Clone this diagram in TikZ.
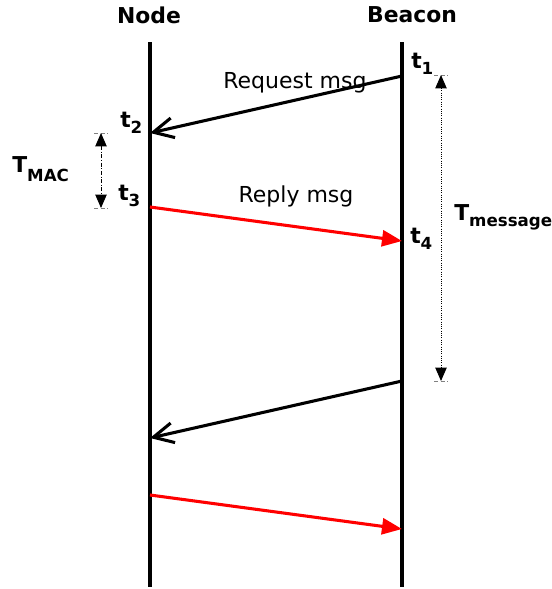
\documentclass[tikz,border=0pt]{standalone}
\usepackage{fontspec}
\setmainfont{DejaVu Sans}
\usetikzlibrary{arrows.meta}
\newcommand{\lowsub}[2][5pt]{\raisebox{-#1}{\fontsize{12.5}{14}\selectfont #2}}
\begin{document}
\begin{tikzpicture}[x=0.75pt,y=-0.75pt,
  lifeline/.style={line width=2.3pt},
  reqarrow/.style={line width=2.3pt, -{Straight Barb[length=15pt,width=15pt]}},
  reparrow/.style={line width=2.3pt, red, -{Triangle[length=15pt,width=12pt]}},
  dimmac/.style={line width=0.7pt, dash pattern=on 3pt off 1.2pt on 0.8pt off 1.2pt, {Triangle[length=10pt,width=8.5pt]}-{Triangle[length=10pt,width=8.5pt]}},
  dimmsg/.style={line width=0.7pt, densely dotted, {Triangle[length=10pt,width=8.5pt]}-{Triangle[length=10pt,width=8.5pt]}},
  tickmark/.style={line width=0.6pt, densely dashed, gray},
  title/.style={font=\fontsize{16.4}{19}\selectfont\bfseries, inner sep=0pt},
  msg/.style={font=\fontsize{16.5}{19}\selectfont, inner sep=0pt, anchor=base},
  tlabel/.style={font=\fontsize{16.4}{19}\selectfont\bfseries, inner sep=0pt, anchor=base west}]
\useasboundingbox (0,0) rectangle (551,589);
% lifelines
\coordinate (ntop) at (150,42);
\coordinate (nbot) at (150,587);
\coordinate (btop) at (402,42);
\coordinate (bbot) at (402,587);
\draw[lifeline] (ntop) -- (nbot);
\draw[lifeline] (btop) -- (bbot);
\node[title] (node) at (149,15) {Node};
\node[title] (beacon) at (412,15) {Beacon};
% events
\coordinate (e1) at (402,76);
\coordinate (e2) at (150,133);
\coordinate (e3) at (150,207);
\coordinate (e4) at (402,241);
\coordinate (e5) at (402,381);
\coordinate (e6) at (150,438);
\coordinate (e7) at (150,495);
\coordinate (e8) at (402,529);
\draw[reqarrow] (e1) -- (e2);
\draw[reparrow] (e3) -- (e4);
\draw[reqarrow] (e5) -- (e6);
\draw[reparrow] (e7) -- (e8);
\node[msg] (req) at (295,88) {Request msg};
\node[msg] (rep) at (296,202) {Reply msg};
% time labels
\node[tlabel] (t1) at (411,68) {t\lowsub{1}};
\node[tlabel] (t2) at (120,127) {t\lowsub{2}};
\node[tlabel] (t3) at (118,200) {t\lowsub{3}};
\node[tlabel] (t4) at (410,243) {t\lowsub{4}};
% T_MAC
\coordinate (m1) at (101,133);
\coordinate (m2) at (101,208);
\coordinate (m1l) at (94,133);
\coordinate (m1r) at (108,133);
\coordinate (m2l) at (94,208);
\coordinate (m2r) at (108,208);
\draw[tickmark] (m1l) -- (m1r);
\draw[tickmark] (m2l) -- (m2r);
\draw[dimmac] (m1) -- (m2);
\node[tlabel] (tmac) at (12,172) {T\lowsub[7pt]{MAC}};
% T_message
\coordinate (g1) at (441,75);
\coordinate (g2) at (441,381);
\coordinate (g1l) at (434,75);
\coordinate (g1r) at (448,75);
\coordinate (g2l) at (434,381);
\coordinate (g2r) at (448,381);
\draw[tickmark] (g1l) -- (g1r);
\draw[tickmark] (g2l) -- (g2r);
\draw[dimmsg] (g1) -- (g2);
\node[tlabel] (tmsg) at (454,220) {T\lowsub[5pt]{message}};
\end{tikzpicture}
\end{document}
